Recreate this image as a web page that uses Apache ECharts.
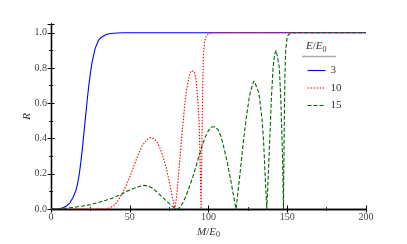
<!DOCTYPE html>
<html>
<head>
<meta charset="utf-8">
<script src="https://cdn.jsdelivr.net/npm/echarts@6/dist/echarts.min.js"></script>
<style>
  html, body { margin: 0; padding: 0; background: #fff; }
  #chart { width: 407px; height: 244px; }
</style>
</head>
<body>
<div id="chart"></div>
<script>
// E/E0 = 3
const blueX = [0, 4, 6, 8, 10, 12, 14, 16, 17, 18, 19, 20, 21, 22, 23, 24, 25, 26, 28, 30, 32, 35, 38, 42, 46, 50, 200];
const blueY = [0, 0.001, 0.003, 0.008, 0.018, 0.035, 0.065, 0.11, 0.15, 0.2, 0.27, 0.35, 0.44, 0.53, 0.62, 0.7, 0.77, 0.83, 0.91, 0.955, 0.975, 0.99, 0.996, 0.999, 1, 1, 1];

// E/E0 = 10
const redX = [0, 34, 37, 40, 42, 44, 46, 48, 50, 52, 55, 58, 61, 63, 65, 67, 69, 71, 73, 75, 77, 78.7, 80, 81, 82, 83, 84, 85, 86, 87, 88, 89, 90, 91, 92, 93, 94, 94.6, 95.3, 95.8, 96.3, 96.8, 97.5, 98.5, 100, 103, 200];
const redY = [0, 0, 0.005, 0.02, 0.04, 0.07, 0.1, 0.14, 0.18, 0.23, 0.3, 0.36, 0.395, 0.405, 0.4, 0.385, 0.35, 0.3, 0.24, 0.16, 0.07, 0, 0.09, 0.2, 0.3, 0.41, 0.5, 0.6, 0.67, 0.72, 0.76, 0.785, 0.79, 0.78, 0.74, 0.65, 0.5, 0.3, 0, 0.35, 0.7, 0.88, 0.95, 0.98, 0.995, 1, 1];

// E/E0 = 15
const greenX = [0, 5, 10, 15, 20, 25, 30, 35, 40, 45, 48, 52, 56, 59, 62, 65, 68, 71, 74, 77, 79, 80.5, 82, 84, 86, 88, 90, 92, 94, 96, 98, 100, 102, 104, 106, 108, 110, 112, 114, 116, 117.5, 119, 120, 122, 124, 126, 128, 129, 130, 132, 134, 135, 136, 137, 138, 139, 140, 141, 142, 143, 144, 145, 146, 147, 147.6, 148, 148.5, 149, 150, 152, 200];
const greenY = [0, 0.001, 0.005, 0.01, 0.017, 0.025, 0.037, 0.05, 0.065, 0.085, 0.1, 0.115, 0.128, 0.134, 0.13, 0.115, 0.09, 0.065, 0.04, 0.015, 0.002, 0, 0.01, 0.04, 0.08, 0.13, 0.18, 0.24, 0.3, 0.36, 0.41, 0.445, 0.465, 0.467, 0.45, 0.41, 0.34, 0.26, 0.17, 0.07, 0, 0.12, 0.2, 0.37, 0.52, 0.64, 0.71, 0.727, 0.72, 0.66, 0.51, 0.38, 0.18, 0, 0.2, 0.42, 0.64, 0.8, 0.88, 0.9, 0.89, 0.8, 0.6, 0.3, 0, 0.4, 0.75, 0.9, 0.98, 1, 1];

const seriesNames = ['3', '10', '15'];
const xTicks = [0, 50, 100, 150, 200];
const yTicks = [0, 0.2, 0.4, 0.6, 0.8, 1.0];

const font = 'Liberation Serif, DejaVu Serif, serif';
const pair = (xs, ys) => xs.map((x, i) => [x, ys[i]]);

const tickAxis = {
  axisLine: { show: true, lineStyle: { color: '#000', width: 1.3 } },
  axisTick: { show: true, inside: true, length: 3.5, lineStyle: { color: '#000', width: 1 } },
  minorTick: { show: true, splitNumber: 2, length: 2, lineStyle: { color: '#000', width: 0.8 } },
  splitLine: { show: false }
};

const chart = echarts.init(document.getElementById('chart'), null, { renderer: 'canvas' });
chart.setOption({
  animation: false,
  backgroundColor: '#fff',
  grid: { left: 51, top: 24, right: 41, bottom: 25 },
  legend: {
    orient: 'vertical',
    left: 302,
    top: 60,
    itemWidth: 18,
    itemHeight: 10,
    itemGap: 6.5,
    itemStyle: { opacity: 0, borderWidth: 0 },
    lineStyle: { width: 1.1 },
    textStyle: { fontFamily: font, fontSize: 11, color: '#333' },
    data: seriesNames
  },
  graphic: [
    {
      type: 'text', left: 306, top: 41,
      style: {
        text: '{i|E}/{i|E}{s|0}',
        rich: {
          i: { fontFamily: font, fontStyle: 'italic', fontSize: 11, fill: '#333' },
          s: { fontFamily: font, fontSize: 8, fill: '#333', verticalAlign: 'bottom', padding: [6, 0, 0, 0] }
        },
        font: '11px ' + font, fill: '#333'
      }
    },
    {
      type: 'line', shape: { x1: 302, y1: 56.5, x2: 336, y2: 56.5 },
      style: { stroke: '#aaa', lineWidth: 1.5 }
    }
  ],
  xAxis: [
    Object.assign({
      type: 'value', min: xTicks[0], max: xTicks[xTicks.length - 1], interval: 50,
      name: '{i|M}/{i|E}{s|0}', nameLocation: 'middle', nameGap: 16, nameMoveOverlap: false,
      nameTextStyle: {
        fontFamily: font, fontSize: 11, color: '#333',
        rich: {
          i: { fontFamily: font, fontStyle: 'italic', fontSize: 11, color: '#333' },
          s: { fontFamily: font, fontSize: 8, color: '#333', padding: [6, 0, 0, 0] }
        }
      },
      axisLabel: { fontFamily: font, fontSize: 10, color: '#444', margin: 3 }
    }, tickAxis),
    Object.assign({
      type: 'value', position: 'top', min: 0, max: 200, interval: 50,
      axisLabel: { show: false }
    }, tickAxis)
  ],
  yAxis: [
    Object.assign({
      type: 'value', min: 0, max: 1.05, interval: 0.2,
      name: 'R', nameLocation: 'middle', nameGap: 18, nameMoveOverlap: false,
      nameTextStyle: { fontFamily: font, fontStyle: 'italic', fontSize: 11, color: '#333' },
      axisLabel: {
        fontFamily: font, fontSize: 10, color: '#444', margin: 4, showMaxLabel: false,
        formatter: v => yTicks.some(t => Math.abs(t - v) < 1e-9) ? v.toFixed(1) : ''
      }
    }, tickAxis),
    Object.assign({
      type: 'value', position: 'right', min: 0, max: 1.05, interval: 0.2,
      axisLabel: { show: false }
    }, tickAxis)
  ],
  series: [
    {
      name: seriesNames[0], type: 'line', data: pair(blueX, blueY),
      showSymbol: false, symbol: 'none', color: '#0000ff',
      lineStyle: { color: '#0000ff', width: 1.1 }
    },
    {
      name: seriesNames[1], type: 'line', data: pair(redX, redY),
      showSymbol: false, symbol: 'none', color: '#ff0000',
      lineStyle: { color: '#ff0000', width: 1.1, type: [1.5, 1.5] }
    },
    {
      name: seriesNames[2], type: 'line', data: pair(greenX, greenY),
      showSymbol: false, symbol: 'none', color: '#006400',
      lineStyle: { color: '#006400', width: 1.1, type: [4, 2] }
    }
  ]
});
</script>
</body>
</html>
